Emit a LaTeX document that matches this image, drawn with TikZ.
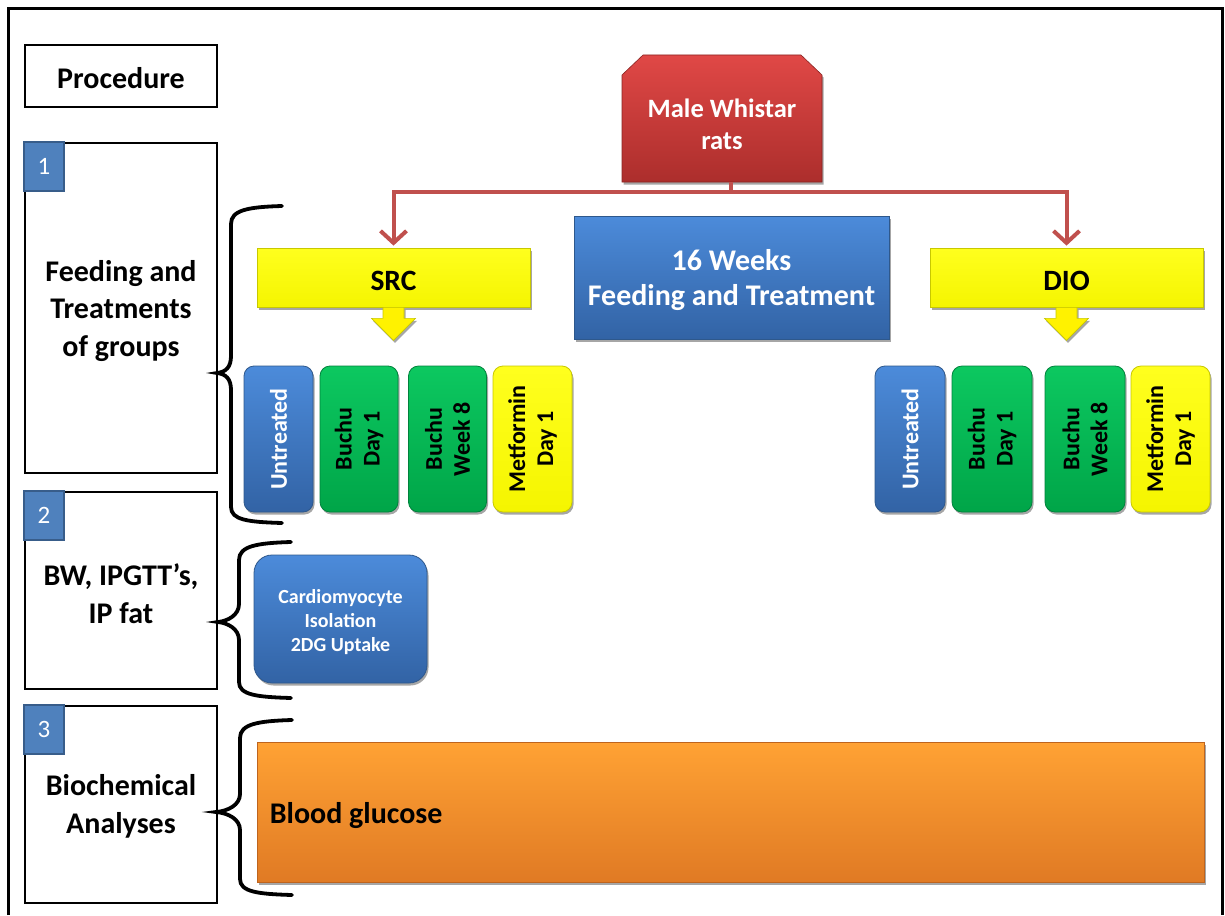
\documentclass[tikz,border=0pt]{standalone}
\usepackage{fontspec}
\setmainfont{Carlito}
\usetikzlibrary{arrows.meta,shadows,calc}
\newcommand{\myfs}[2]{\fontsize{#1}{#2}\selectfont}
\definecolor{bluetop}{RGB}{76,139,218}
\definecolor{bluebot}{RGB}{50,99,165}
\definecolor{blueedge}{RGB}{46,88,140}
\definecolor{greentop}{RGB}{12,200,96}
\definecolor{greenbot}{RGB}{0,165,72}
\definecolor{greenedge}{RGB}{0,130,60}
\definecolor{yeltop}{RGB}{255,255,30}
\definecolor{yelbot}{RGB}{245,245,0}
\definecolor{yeledge}{RGB}{200,200,0}
\definecolor{orgtop}{RGB}{255,162,52}
\definecolor{orgbot}{RGB}{224,122,36}
\definecolor{orgedge}{RGB}{190,100,30}
\definecolor{redtop}{RGB}{224,72,70}
\definecolor{redbot}{RGB}{172,46,44}
\definecolor{redline}{RGB}{192,80,77}
\definecolor{badgefill}{RGB}{79,129,189}
\definecolor{badgeedge}{RGB}{56,93,138}
\begin{document}
\begin{tikzpicture}[x=1pt,y=1pt,
  pbox/.style={draw=black, line width=2.6pt, fill=white, inner sep=0pt},
  lbl/.style={align=center, font=\bfseries\myfs{30}{37.5}, inner sep=0pt},
  badge/.style={draw=badgeedge, fill=badgefill, line width=1.5pt, minimum width=40,
    minimum height=49, inner sep=0pt, text=white, font=\myfs{25}{30}},
  shad/.style={drop shadow={shadow xshift=1.5pt, shadow yshift=-2.5pt, opacity=0.35, fill=black}},
  bluebox/.style={shad, top color=bluetop, bottom color=bluebot, draw=blueedge, line width=0.8pt, inner sep=0pt},
  greenbox/.style={shad, top color=greentop, bottom color=greenbot, draw=greenedge, line width=0.8pt, inner sep=0pt},
  yelbox/.style={shad, top color=yeltop, bottom color=yelbot, draw=yeledge, line width=0.8pt, inner sep=0pt},
  orgbox/.style={shad, top color=orgtop, bottom color=orgbot, draw=orgedge, line width=0.8pt, inner sep=0pt},
  small/.style={rounded corners=10pt, minimum height=146},
  vtext/.style={rotate=90, align=center, font=\bfseries\myfs{24}{28}, inner sep=0pt},
  brace/.style={line width=3.8pt, black, line cap=round},
  redarrow/.style={draw=redline, line width=4pt, -{Straight Barb[length=12pt,width=26pt]}, shorten >=2pt},
  yarrow/.style={fill=yellow, draw=yeledge, line width=0.6pt, shad}
]
\useasboundingbox (0,0) rectangle (1225,-915);
\fill[white] (0,0) rectangle (1225,-915);
% outer frame
\draw[line width=3pt] (8,-915) -- (8,-9) -- (1222,-9) -- (1222,-915);

% left column boxes
\node[pbox, minimum width=192, minimum height=62] (proc) at (121,-76) {};
\node[lbl] (proctxt) at ($(proc)+(0,-2)$) {Procedure};
\node[pbox, minimum width=192, minimum height=330] (box1) at (121,-308) {};
\node[lbl] (box1txt) at ($(box1)+(0,-3)$) {Feeding and\\Treatments\\of groups};
\node[pbox, minimum width=192, minimum height=197] (box2) at (121,-590.5) {};
\node[lbl] (box2txt) at ($(box2)+(0,-3)$) {BW, IPGTT’s,\\IP fat};
\node[pbox, minimum width=192, minimum height=197] (box3) at (121,-804.5) {};
\node[lbl] (box3txt) at ($(box3)+(0,-2)$) {Biochemical\\Analyses};
\node[badge, anchor=north west] (b1) at ([shift={(-0.5,0.5)}]box1.north west) {1};
\node[badge, anchor=north west] (b2) at ([shift={(-0.5,0.5)}]box2.north west) {2};
\node[badge, anchor=north west] (b3) at ([shift={(-0.5,0.5)}]box3.north west) {3};

% braces
\draw[brace] (282,-206) .. controls (248,-207) and (231,-210) .. (231,-224) -- (231,-356)
  .. controls (231,-367) and (226,-372) .. (217,-373)
  .. controls (226,-374) and (231,-379) .. (231,-390) -- (231,-507)
  .. controls (231,-520) and (248,-522) .. (282,-523);
\draw[brace] (291,-542) .. controls (257,-543) and (239,-546) .. (239,-560) -- (239,-604)
  .. controls (239,-615) and (228,-621) .. (218,-622)
  .. controls (228,-623) and (239,-629) .. (239,-640) -- (239,-682)
  .. controls (239,-695) and (257,-697) .. (291,-698);
\draw[brace] (292,-720) .. controls (258,-721) and (240,-724) .. (240,-738) -- (240,-794)
  .. controls (240,-805) and (228,-811) .. (216,-812)
  .. controls (228,-813) and (240,-819) .. (240,-830) -- (240,-879)
  .. controls (240,-892) and (258,-894) .. (292,-895);

% red top shape
\path[shad, top color=redtop, bottom color=redbot, draw=redbot!80!black, line width=0.6pt]
  (622,-182) -- (622,-75) -- (643,-55) -- (801,-55) -- (822,-75) -- (822,-182) -- cycle;
\node[minimum width=200, minimum height=127, inner sep=0pt] (rats) at (722,-118.5) {};
\node[align=center, text=white, font=\bfseries\myfs{26.5}{32}] (ratslbl) at (722,-124) {Male Whistar\\rats};

% yellow group boxes
\node[yelbox, minimum width=273, minimum height=59] (src) at (393.5,-277.5) {};
\node[lbl, font=\bfseries\myfs{29.5}{35}] (srctxt) at ($(src)+(0,-3)$) {SRC};
\node[yelbox, minimum width=273, minimum height=59] (dio) at (1066.5,-277.5) {};
\node[lbl, font=\bfseries\myfs{29.5}{35}] (diotxt) at ($(dio)+(0,-3)$) {DIO};

% red connectors
\coordinate (split) at ($(rats.south)+(9,-10)$);
\draw[draw=redline, line width=4pt] ([xshift=9pt]rats.south) -- (split);
\draw[redarrow] (split) -| (src.north);
\draw[redarrow] (split) -| (dio.north);

% yellow down arrows
\path[yarrow] ($(src.south)+(-10.5,0)$) -- ++(0,-11) -- ++(-11.5,0) -- ($(src.south)+(0,-33)$)
  -- ($(src.south)+(22,-11)$) -- ++(-11.5,0) -- ++(0,11) -- cycle;
\path[yarrow] ($(dio.south)+(-10.5,0)$) -- ++(0,-11) -- ++(-11.5,0) -- ($(dio.south)+(0,-33)$)
  -- ($(dio.south)+(22,-11)$) -- ++(-11.5,0) -- ++(0,11) -- cycle;

% central blue box
\node[bluebox, minimum width=315, minimum height=123] (weeks) at (731.5,-277.5) {};
\node[lbl, text=white, font=\bfseries\myfs{30}{35}] (weekstxt) at ($(weeks)+(0,-3)$) {16 Weeks\\Feeding and Treatment};

% SRC treatment boxes
\node[bluebox, small, minimum width=69] (su) at (278.5,-439) {};
\node[vtext, text=white] (sutxt) at (su) {Untreated};
\node[greenbox, small, minimum width=78] (sb1) at (359,-439) {};
\node[vtext] (sb1txt) at (sb1) {Buchu\\Day 1};
\node[greenbox, small, minimum width=78] (sb8) at (447.5,-439) {};
\node[vtext] (sb8txt) at (sb8) {Buchu\\Week 8};
\node[yelbox, small, minimum width=79] (sm) at (532.5,-439) {};
\node[vtext] (smtxt) at (sm) {Metformin\\Day 1};

% DIO treatment boxes
\node[bluebox, small, minimum width=70] (du) at (910,-439) {};
\node[vtext, text=white] (dutxt) at (du) {Untreated};
\node[greenbox, small, minimum width=80] (db1) at (992,-439) {};
\node[vtext] (db1txt) at (db1) {Buchu\\Day 1};
\node[greenbox, small, minimum width=80] (db8) at (1085,-439) {};
\node[vtext] (db8txt) at (db8) {Buchu\\Week 8};
\node[yelbox, small, minimum width=79] (dm) at (1170.5,-439) {};
\node[vtext] (dmtxt) at (dm) {Metformin\\Day 1};

% cardiomyocyte box
\node[bluebox, rounded corners=18pt, minimum width=173, minimum height=128] (cardio) at (340.5,-619) {};
\node[lbl, text=white, font=\bfseries\myfs{20}{24}] (cardiotxt) at ($(cardio)+(0,-3)$) {Cardiomyocyte\\Isolation\\2DG Uptake};

% orange box
\node[orgbox, minimum width=947, minimum height=140] (blood) at (730.5,-812) {};
\node[anchor=west, font=\bfseries\myfs{30}{36}, inner sep=0pt] (bloodtxt) at ($(blood.west)+(13,-4)$) {Blood glucose};
\end{tikzpicture}
\end{document}
